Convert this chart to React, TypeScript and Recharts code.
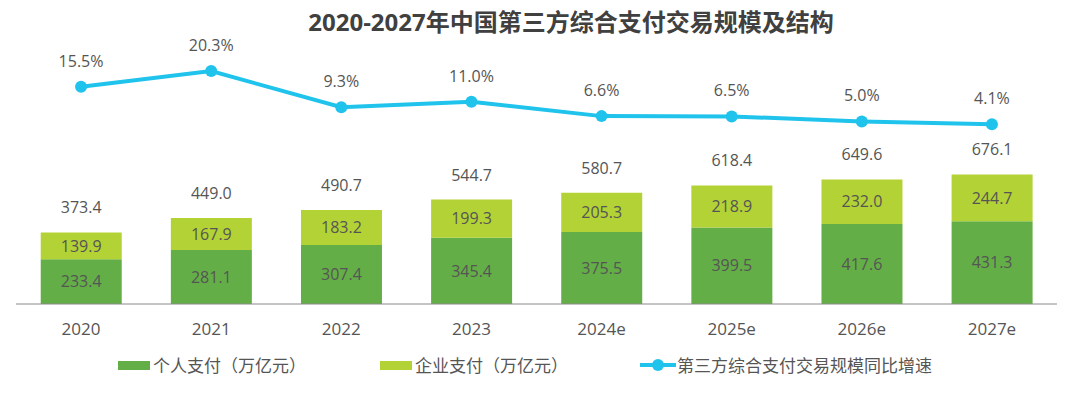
import React from 'react';
import {
  ComposedChart, Bar, Line, XAxis, YAxis, LabelList,
} from 'recharts';

const YEARS = ['2020', '2021', '2022', '2023', '2024e', '2025e', '2026e', '2027e'];
const PERSONAL = [233.4, 281.1, 307.4, 345.4, 375.5, 399.5, 417.6, 431.3];
const ENTERPRISE = [139.9, 167.9, 183.2, 199.3, 205.3, 218.9, 232.0, 244.7];
const TOTALS = [373.4, 449.0, 490.7, 544.7, 580.7, 618.4, 649.6, 676.1];
const GROWTH = [15.5, 20.3, 9.3, 11.0, 6.6, 6.5, 5.0, 4.1];

const data = YEARS.map((year, i) => ({
  year,
  personal: PERSONAL[i],
  enterprise: ENTERPRISE[i],
  total: TOTALS[i],
  growth: GROWTH[i],
}));

const FONT = '"Open Sans", "Noto Sans CJK SC", sans-serif';
const DARK_GREEN = '#64AE47';
const LIGHT_GREEN = '#B3D235';
const CYAN = '#20C3EC';
const TEXT = '#555555';

const YearTick = ({ x, y, payload }: any) => (
  <text x={x} y={y + 16} textAnchor="middle" dominantBaseline="central"
    fontSize={17} fill={TEXT} fontFamily={FONT}>
    {payload.value}
  </text>
);

const TotalLabel = ({ x, y, width, value }: any) => (
  <text x={x + width / 2} y={y - 25} textAnchor="middle" dominantBaseline="central"
    fontSize={16} fill={TEXT} fontFamily={FONT}>
    {Number(value).toFixed(1)}
  </text>
);

const GrowthLabel = ({ x, y, value }: any) => (
  <text x={x} y={y - 26} textAnchor="middle" dominantBaseline="central"
    fontSize={16} fill={TEXT} fontFamily={FONT}>
    {Number(value).toFixed(1)}%
  </text>
);

const legendText: React.CSSProperties = {
  position: 'absolute', top: 347, fontSize: 17, color: TEXT, lineHeight: '22px',
  whiteSpace: 'nowrap',
};

export default function App() {
  return (
    <div style={{ position: 'relative', width: 1064, height: 391, fontFamily: FONT }}>
      <div style={{
        position: 'absolute', left: 263, top: 0, width: 600, textAlign: 'center',
        fontSize: 24, fontWeight: 700, color: '#404040', lineHeight: '28px',
      }}>
        2020-2027年中国第三方综合支付交易规模及结构
      </div>

      <ComposedChart width={1064} height={391} data={data}
        margin={{ top: 41, right: 15, left: 8, bottom: 65 }} barCategoryGap="19%">
        <XAxis dataKey="year" axisLine={{ stroke: '#8a8a8a' }} tickLine={false}
          tick={<YearTick />} height={30} interval={0} />
        <YAxis yAxisId="amount" hide domain={[0, 1330]} />
        <YAxis yAxisId="rate" hide domain={[-50.5, 27]} />
        <Bar yAxisId="amount" dataKey="personal" stackId="pay" fill={DARK_GREEN}
          isAnimationActive={false}>
          <LabelList dataKey="personal" position="center" fontSize={16} fill={TEXT}
            fontFamily={FONT} formatter={(v: any) => Number(v).toFixed(1)} />
        </Bar>
        <Bar yAxisId="amount" dataKey="enterprise" stackId="pay" fill={LIGHT_GREEN}
          isAnimationActive={false}>
          <LabelList dataKey="enterprise" position="center" fontSize={16} fill={TEXT}
            fontFamily={FONT} formatter={(v: any) => Number(v).toFixed(1)} />
          <LabelList dataKey="total" content={<TotalLabel />} />
        </Bar>
        <Line yAxisId="rate" dataKey="growth" stroke={CYAN} strokeWidth={4}
          dot={{ r: 6, fill: CYAN, stroke: 'none' }} activeDot={false}
          isAnimationActive={false}>
          <LabelList dataKey="growth" content={<GrowthLabel />} />
        </Line>
      </ComposedChart>

      {/* legend */}
      <div style={{ position: 'absolute', left: 110, top: 353, width: 32, height: 9, background: DARK_GREEN }} />
      <div style={{ ...legendText, left: 145 }}>个人支付（万亿元）</div>
      <div style={{ position: 'absolute', left: 372, top: 353, width: 32, height: 9, background: LIGHT_GREEN }} />
      <div style={{ ...legendText, left: 407 }}>企业支付（万亿元）</div>
      <div style={{ position: 'absolute', left: 632, top: 355, width: 36, height: 4, background: CYAN }} />
      <div style={{ position: 'absolute', left: 644, top: 351, width: 12, height: 12, borderRadius: 6, background: CYAN }} />
      <div style={{ ...legendText, left: 669 }}>第三方综合支付交易规模同比增速</div>
    </div>
  );
}
